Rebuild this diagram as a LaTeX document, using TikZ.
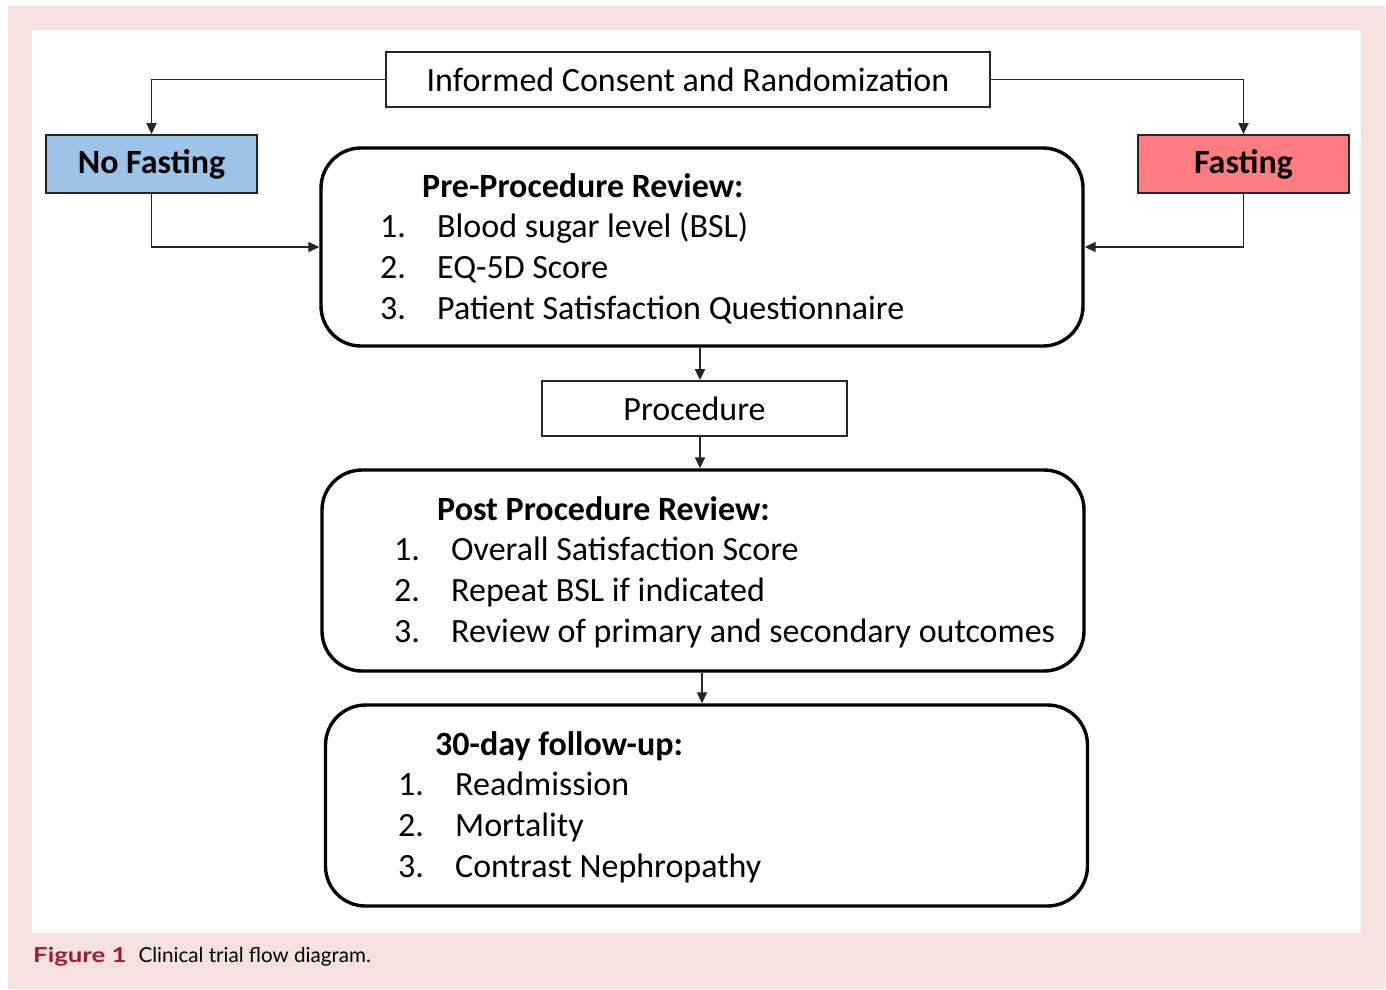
\documentclass[tikz,border=0pt]{standalone}
\usepackage{fontspec}
\setmainfont{Carlito}
\newfontfamily\capfont{Lato}
\usetikzlibrary{arrows.meta}

\definecolor{pagepink}{HTML}{F5E1DD}
\definecolor{nofastblue}{HTML}{9DC3E6}
\definecolor{fastred}{HTML}{FF7C80}
\definecolor{figred}{HTML}{A51C30}
\newcommand{\flowfont}{\fontsize{34}{40}\selectfont}

\tikzset{
  plainbox/.style={draw=black!85,line width=1.8pt,inner sep=0pt,font=\flowfont},
  armbox/.style={plainbox,minimum width=211pt,minimum height=58pt,font=\flowfont\bfseries},
  reviewbox/.style={draw=black,line width=3.4pt,rounded corners=40pt,inner sep=0pt,minimum width=762pt,minimum height=200pt},
  flow/.style={draw=black!85,line width=1.8pt,-{Triangle[length=11pt,width=10pt]}},
  itemtext/.style={anchor=base west,inner sep=0pt,font=\flowfont}
}

\begin{document}
\begin{tikzpicture}[x=1pt,y=-1pt]
\useasboundingbox (0,0) rectangle (1386,989);
\fill[pagepink] (8,6) rectangle (1385,989);
\fill[white] (32,30) rectangle (1361,933);

\node[plainbox,minimum width=604pt,minimum height=55pt] (consent) at (688,79.5) {Informed Consent and Randomization};
\node[armbox,fill=nofastblue] (nofast) at (151.5,164) {No Fasting};
\node[armbox,fill=fastred] (fast) at (1243.5,164) {Fasting};
\node[reviewbox,minimum height=198pt] (pre) at (702,247) {};
\node[plainbox,minimum width=305pt,minimum height=55pt] (proc) at (694.5,408.5) {Procedure};
\node[reviewbox,minimum height=201pt] (post) at (703,570.5) {};
\node[reviewbox,minimum height=201pt] (follow) at (706.5,805.5) {};

% list texts
\node[itemtext,font=\flowfont\bfseries] (prehead) at (422,197) {Pre-Procedure Review:};
\foreach \t [count=\i] in {Blood sugar level (BSL),EQ-5D Score,Patient Satisfaction Questionnaire}{
  \node[itemtext] (pren\i) at (380,197+40.7*\i) {\i.};
  \node[itemtext] (pre\i) at (437,197+40.7*\i) {\t};
}
\node[itemtext,font=\flowfont\bfseries] (posthead) at (437,520) {Post Procedure Review:};
\foreach \t [count=\i] in {Overall Satisfaction Score,Repeat BSL if indicated,Review of primary and secondary outcomes}{
  \node[itemtext] (postn\i) at (394,520+40.8*\i) {\i.};
  \node[itemtext] (post\i) at (451,520+40.8*\i) {\t};
}
\node[itemtext,font=\flowfont\bfseries] (followhead) at (435,755) {30-day follow-up:};
\foreach \t [count=\i] in {Readmission,Mortality,Contrast Nephropathy}{
  \node[itemtext] (follown\i) at (398,755+40.8*\i) {\i.};
  \node[itemtext] (follow\i) at (455,755+40.8*\i) {\t};
}

\draw[flow] (consent.west) -| (nofast.north);
\draw[flow] (consent.east) -| (fast.north);
\draw[flow] (nofast.south) |- (pre.west);
\draw[flow] (fast.south) |- (pre.east);
\draw[flow] ([xshift=-2pt]pre.south) -- ([xshift=-2pt]pre.south |- proc.north);
\draw[flow] ([xshift=-2pt]pre.south |- proc.south) -- ([xshift=-3pt]post.north);
\draw[flow] ([xshift=-1pt]post.south) -- ([xshift=-1pt]post.south |- follow.north);

\node[anchor=base west,inner sep=0pt,font=\capfont\fontsize{20.6}{25}\selectfont] (caption) at (33,962)
  {\textcolor{figred}{\scalebox{1.25}[1]{\bfseries Figure 1}}\hspace{12pt}Clinical trial flow diagram.};
\end{tikzpicture}
\end{document}
